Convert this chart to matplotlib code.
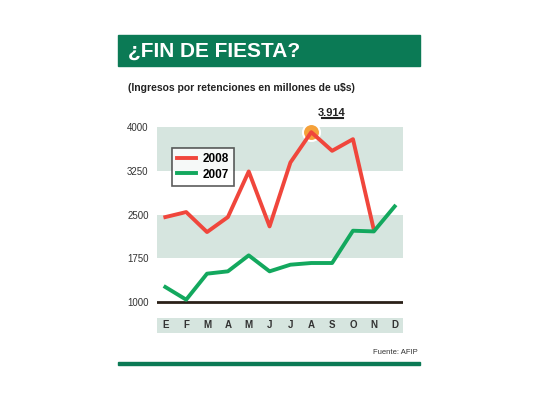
import matplotlib.pyplot as plt
from matplotlib.patches import Rectangle

meses = ['E', 'F', 'M', 'A', 'M', 'J', 'J', 'A', 'S', 'O', 'N', 'D']
v2008 = [2457, 2543, 2200, 2457, 3240, 2297, 3394, 3914, 3594, 3794, 2240]
v2007 = [1257, 1040, 1486, 1526, 1800, 1526, 1640, 1669, 1669, 2223, 2211, 2640]
ticks = [1000, 1750, 2500, 3250, 4000]

plt.rcParams['font.family'] = ['Liberation Sans', 'DejaVu Sans']
fig = plt.figure(figsize=(5.4, 4.05), dpi=100)
fig.patch.set_facecolor('white')

# banner
fig.add_artist(Rectangle((118/540, 1-66/405), 302/540, 31/405, transform=fig.transFigure,
                         color='#0b7a55', zorder=0))
fig.text(128/540, 1-51/405, '¿FIN DE FIESTA?', color='white', fontsize=15, fontweight='bold',
         va='center', ha='left')
fig.text(128/540, 1-88/405, '(Ingresos por retenciones en millones de u$s)', fontsize=7.5,
         fontweight='bold', color='#222222', va='center')
fig.add_artist(Rectangle((118/540, 1-365/405), 302/540, 3/405, transform=fig.transFigure,
                         color='#0b7a55', zorder=0))
fig.text(418/540, 1-352/405, 'Fuente: AFIP', fontsize=5.5, ha='right', va='center', color='#333333')

ax = fig.add_axes([157/540, 0.168, 246/540, 0.554])
ax.set_xlim(-0.4, 11.4)
ax.set_ylim(400, 4250)
for lo, hi in [(3250, 4000), (1750, 2500)]:
    ax.axhspan(lo, hi, color='#d6e5df', zorder=0, lw=0)
ax.axhspan(469, 726, color='#d6e5df', zorder=0, lw=0)
ax.axhline(1000, color='#2a2018', lw=2, zorder=1)
for i, m in enumerate(meses):
    ax.text(i, 597, m, ha='center', va='center', fontsize=7, fontweight='bold', color='#333333')

ax.plot(range(len(v2008)), v2008, color='#f0463c', lw=2.8, label='2008', zorder=3)
ax.plot(range(len(v2007)), v2007, color='#13a85e', lw=2.8, label='2007', zorder=3)
ax.scatter([7], [3914], s=150, color='#f5a13a', edgecolors='white', linewidths=1.5, zorder=2)
ax.text(8.0, 4250, '3.914', ha='center', va='center', fontsize=8, fontweight='bold', color='#222222')
ax.plot([7.5, 8.5], [4160, 4160], color='#222222', lw=1.5, clip_on=False)

ax.set_yticks(ticks)
ax.set_yticklabels([str(t) for t in ticks], fontsize=7, color='#333333')
ax.tick_params(axis='y', length=0, pad=6)
ax.set_xticks([])
for s in ax.spines.values():
    s.set_visible(False)

leg = ax.legend(loc='upper left', bbox_to_anchor=(0.035, 0.87), frameon=True,
                fancybox=False, edgecolor='#333333', handlelength=1.6, handletextpad=0.6,
                borderpad=0.45, labelspacing=0.3, prop={'weight': 'bold', 'size': 8.5})
leg.get_frame().set_linewidth(1.2)

fig.savefig('out.png', dpi=100)
